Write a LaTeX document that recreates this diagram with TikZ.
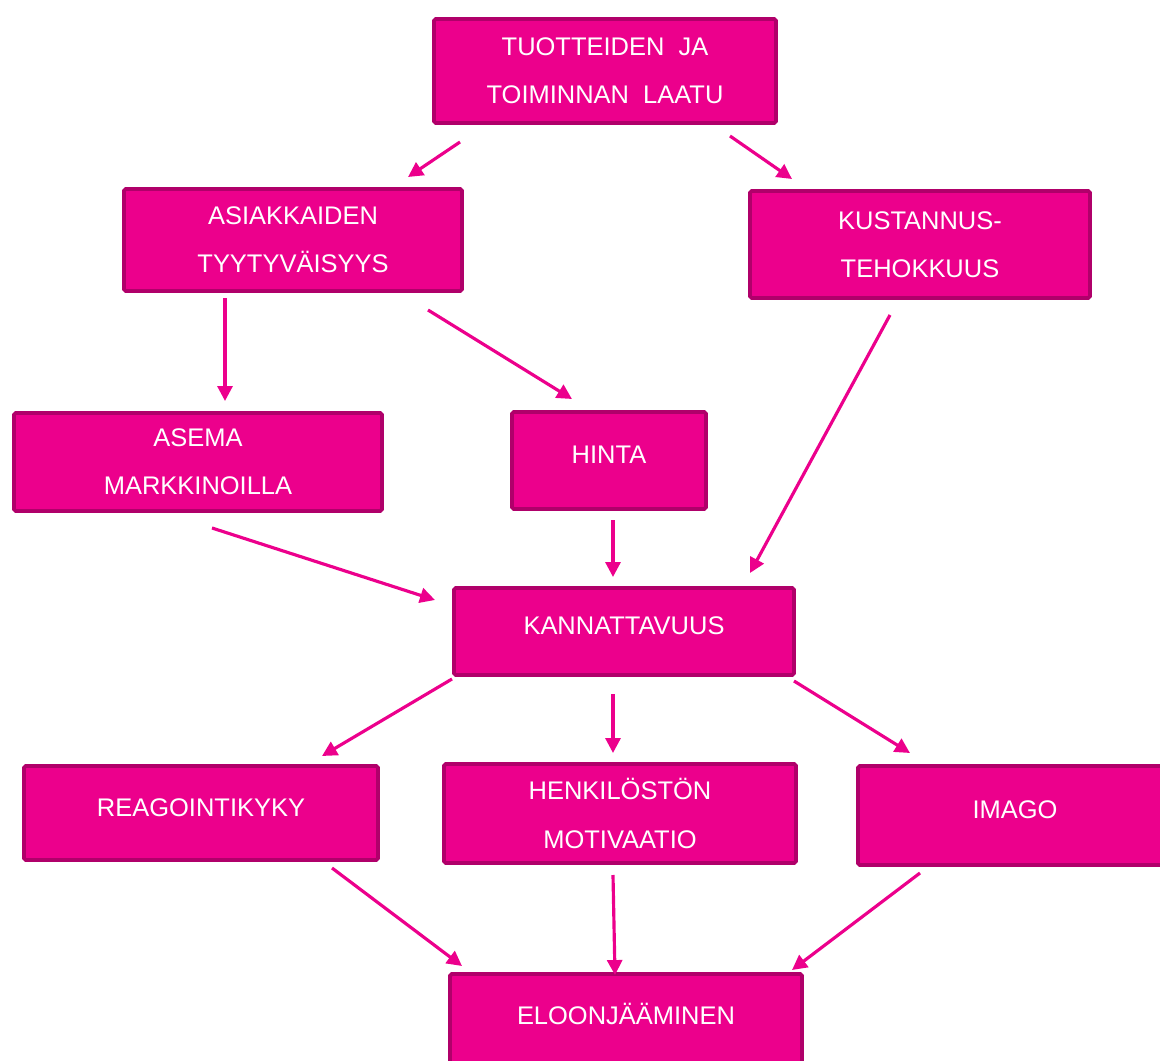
\documentclass[tikz,border=0pt]{standalone}
\usepackage{fontspec}
\setmainfont{Liberation Sans}
\usetikzlibrary{arrows.meta}
\definecolor{laatupink}{RGB}{236,0,140}
\definecolor{laatuedge}{RGB}{176,0,106}
\tikzset{
    box/.style 2 args={draw=laatuedge,fill=laatupink,line width=2.2pt,rounded corners=1pt,
        text=white,align=center,minimum width=#1*0.02cm,minimum height=#2*0.02cm,
        font=\fontsize{14.5}{27.5}\selectfont},
    oneline/.style={text depth=6.5pt},
    arr/.style={draw=laatupink,line width=1.8pt,-{Triangle[length=8.5pt,width=8.5pt]}}
}

\begin{document}
\begin{tikzpicture}[x=0.02cm,y=-0.02cm]
    \useasboundingbox (0,0) rectangle (1160,1061);
    \clip (0,0) rectangle (1160,1061);
    % boxes
    \node[box={342}{104}] (laatu) at (605,71) {TUOTTEIDEN\ \ JA\\TOIMINNAN\ \ LAATU};
    \node[box={338}{102}] (tyyt) at (293,240) {ASIAKKAIDEN\\TYYTYV\"AISYYS};
    \node[box={340}{107}] (kust) at (920,244.5) {KUSTANNUS-\\TEHOKKUUS};
    \node[box={368}{98}] (asema) at (198,462) {ASEMA\\MARKKINOILLA};
    \node[box={194}{97},oneline] (hinta) at (609,460.5) {HINTA};
    \node[box={340}{87},oneline] (kann) at (624,631.5) {KANNATTAVUUS};
    \node[box={354}{94},oneline] (reag) at (201,813) {REAGOINTIKYKY};
    \node[box={352}{99}] (motiv) at (620,813.5) {HENKIL\"OST\"ON\\MOTIVAATIO};
    \node[box={314}{99},oneline] (imago) at (1015,815.5) {IMAGO};
    \node[box={352}{92},oneline] (eloon) at (626,1020) {ELOONJ\"A\"AMINEN};
    % arrow ends
    \coordinate (a1s) at (460,142);  \coordinate (a1e) at (408,177);
    \coordinate (a2s) at (730,136);  \coordinate (a2e) at (792,179);
    \coordinate (a3s) at (225,298);  \coordinate (a3e) at (225,401);
    \coordinate (a4s) at (428,310);  \coordinate (a4e) at (572,399);
    \coordinate (a5s) at (890,315);  \coordinate (a5e) at (750,573);
    \coordinate (a6s) at (212,528);  \coordinate (a6e) at (435,600);
    \coordinate (a7s) at (613,520);  \coordinate (a7e) at (613,577);
    \coordinate (a8s) at (452,679);  \coordinate (a8e) at (322,756);
    \coordinate (a9s) at (613,694);  \coordinate (a9e) at (613,753);
    \coordinate (a10s) at (794,681); \coordinate (a10e) at (910,753);
    \coordinate (a11s) at (332,868); \coordinate (a11e) at (462,966);
    \coordinate (a12s) at (613,875); \coordinate (a12e) at (615,975);
    \coordinate (a13s) at (920,873); \coordinate (a13e) at (792,970);
    \foreach \i in {1,...,13}
        \draw[arr] (a\i s) -- (a\i e);
\end{tikzpicture}
\end{document}
